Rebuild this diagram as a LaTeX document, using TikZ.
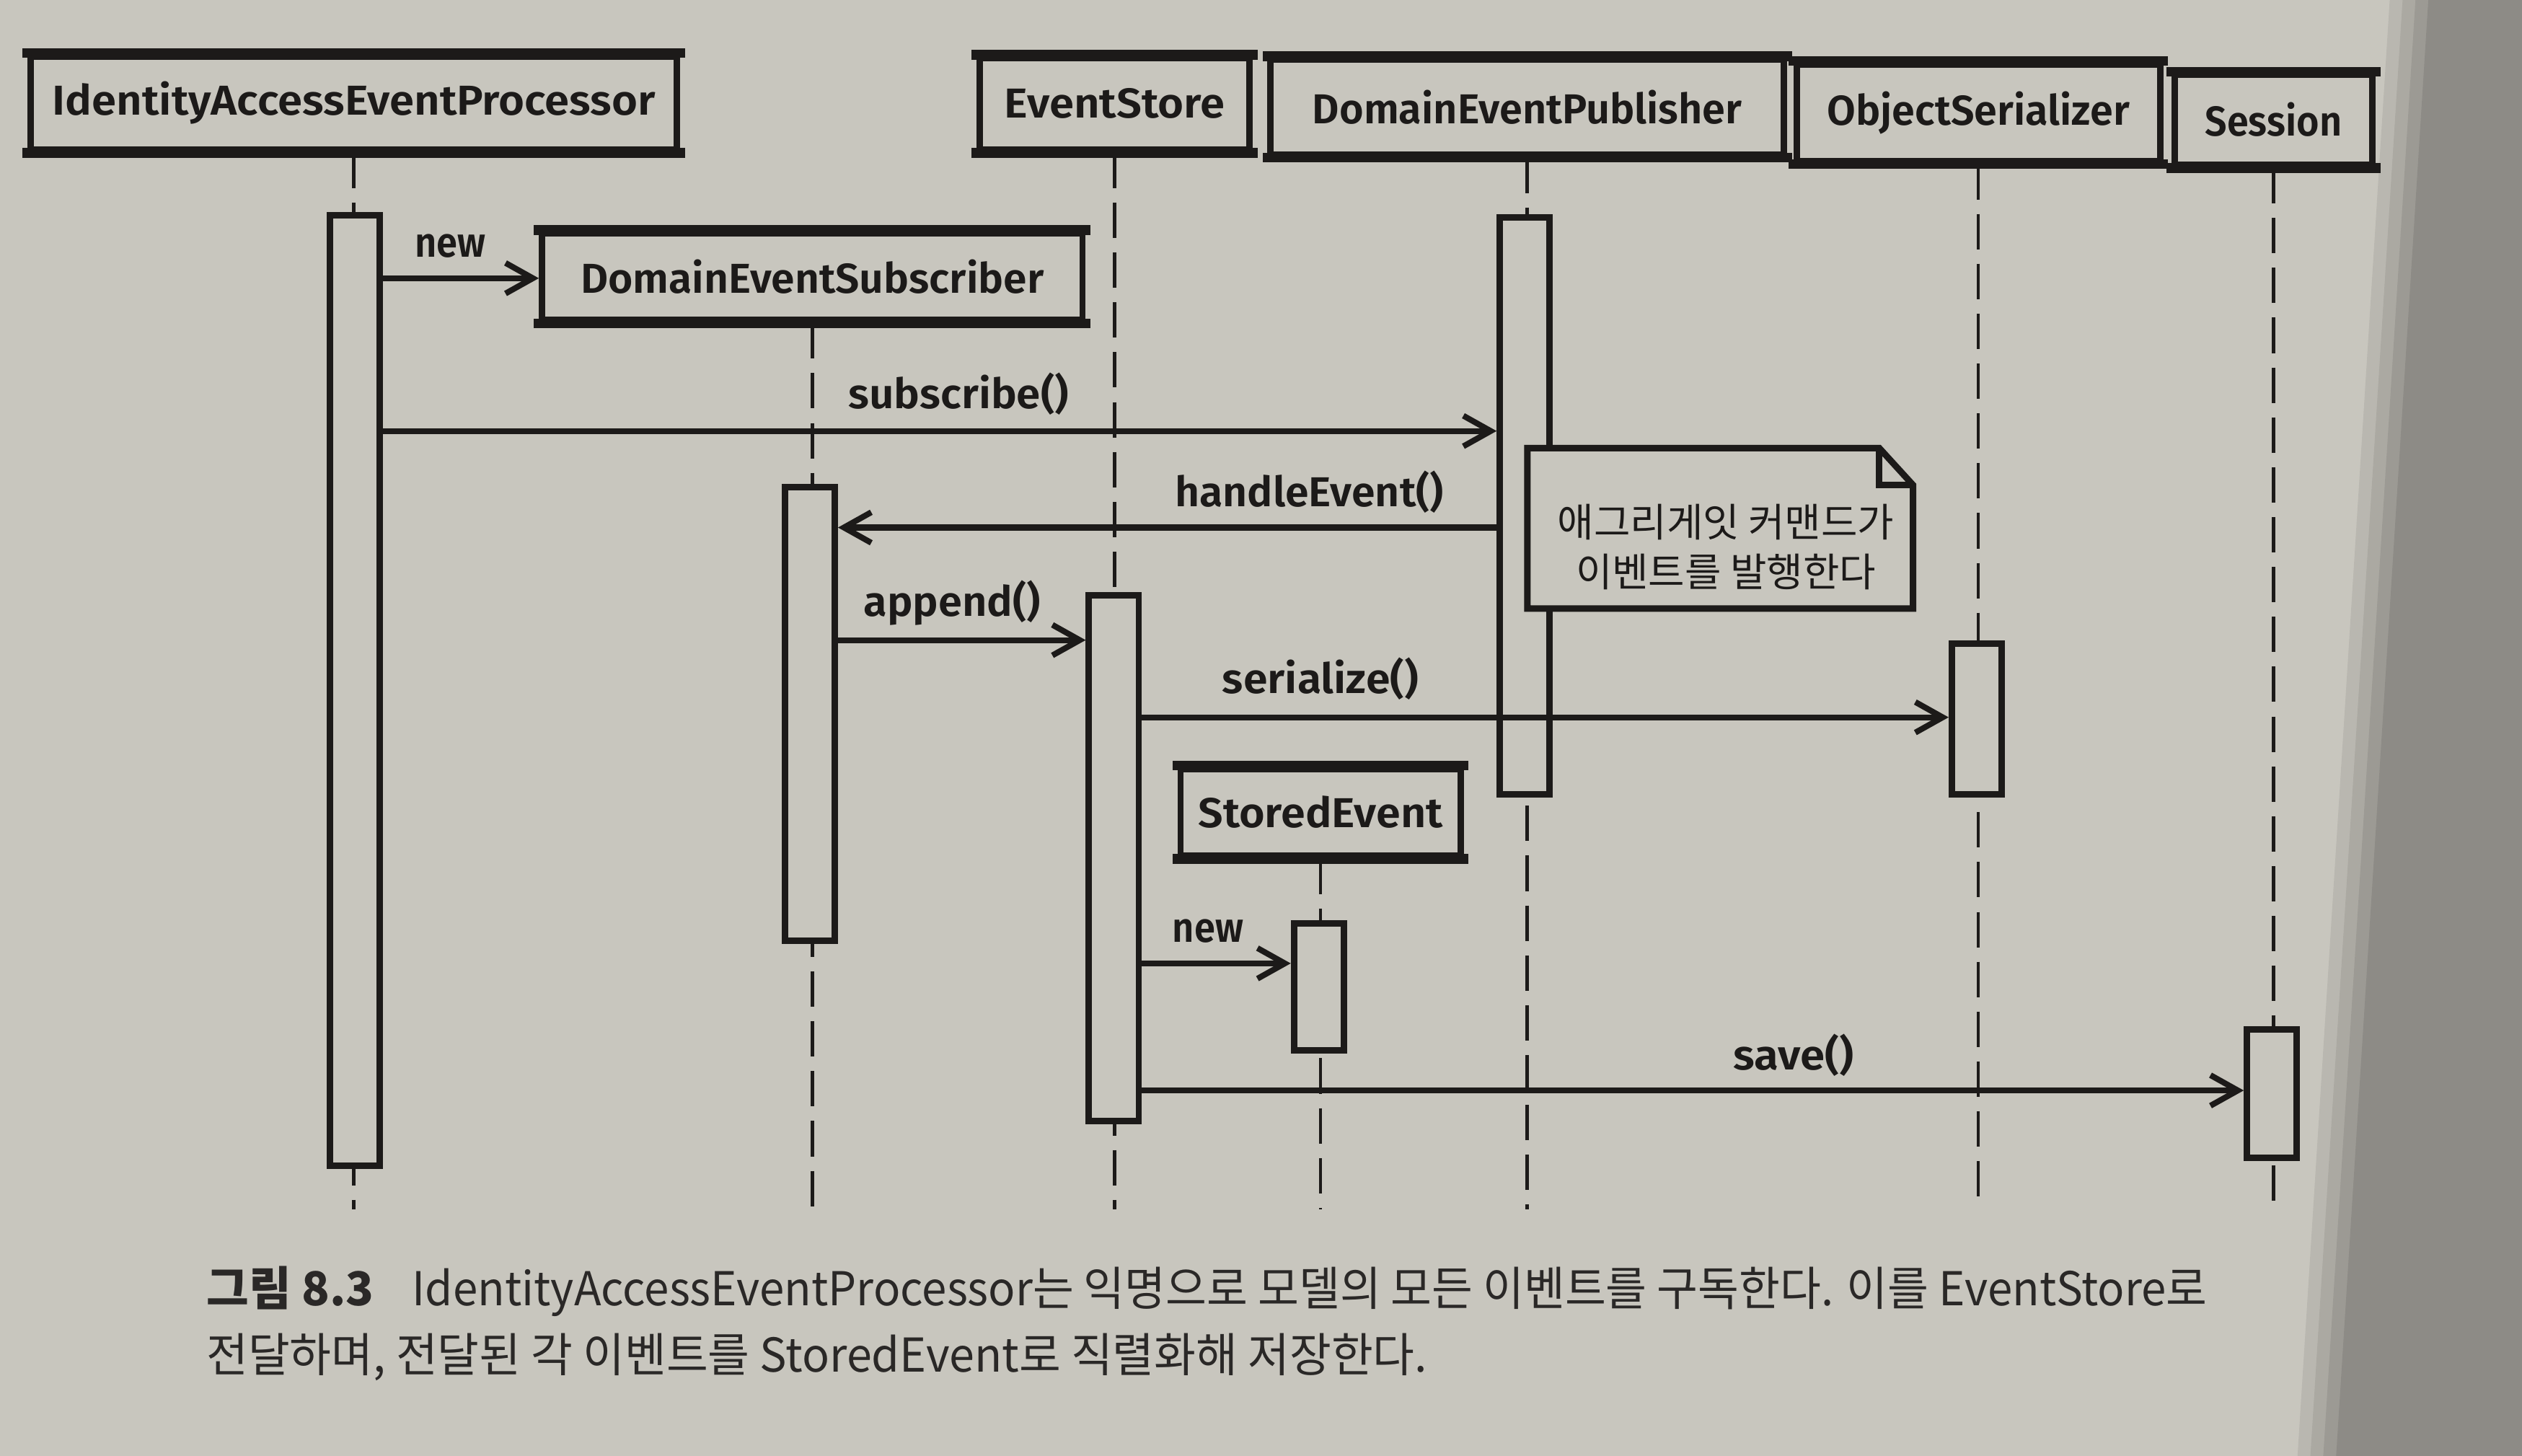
\documentclass[tikz,border=0pt]{standalone}
\usepackage{fontspec}
\usepackage{graphicx}
\usetikzlibrary{arrows.meta,calc}
\newfontfamily\lblfont{Fira Sans SemiBold}
\newfontfamily\krfont{Noto Sans CJK KR}
\definecolor{paper}{HTML}{C8C6BE}
\definecolor{ink}{HTML}{1C1A19}
\definecolor{capink}{HTML}{2A2827}
\definecolor{shadowc}{HTML}{8D8B86}
\newcommand\fitw[2]{\resizebox{\dimexpr #1pt/2\relax}{\height}{#2}}
\begin{document}
\begin{tikzpicture}[x=0.5pt,y=-0.5pt,
  obj/.style={draw=ink,line width=2pt,fill=paper,inner sep=0pt,text=ink,font=\lblfont\fontsize{13}{15}\selectfont},
  bar/.style={draw=ink,line width=2pt,fill=paper,inner sep=0pt,minimum width=15.5pt},
  life/.style={draw=ink,line width=1pt,dash pattern=on 11pt off 4.5pt},
  msg/.style={draw=ink,line width=1.8pt,-{Straight Barb[length=8.5pt,width=9.5pt]}},
  lbl/.style={text=ink,inner sep=0pt,font=\lblfont\fontsize{13}{15}\selectfont},
  edge/.style={draw=ink,line width=3pt,line cap=rect},
  captext/.style={anchor=base west,inner sep=0pt,text=capink,font=\krfont\fontsize{14.5}{17}\selectfont},
]
% background
\useasboundingbox (0,0) rectangle (1568,905.27);
\fill[paper] (-4,-4) rectangle (1572,912);
\fill[paper!75!shadowc] (1486,-4) -- (1572,-4) -- (1572,912) -- (1428,912) -- cycle;
\fill[paper!50!shadowc] (1494,-4) -- (1572,-4) -- (1572,912) -- (1436,912) -- cycle;
\fill[paper!25!shadowc] (1502,-4) -- (1572,-4) -- (1572,912) -- (1444,912) -- cycle;
\fill[shadowc] (1510,-4) -- (1572,-4) -- (1572,912) -- (1452,912) -- cycle;

% object boxes
\node[obj,minimum width=201pt,minimum height=29pt] (iaep) at (220,64) {\fitw{375}{IdentityAccessEventProcessor}};
\node[obj,minimum width=84pt,minimum height=28.5pt] (es) at (693,64.5) {\fitw{137}{EventStore}};
\node[obj,minimum width=159.5pt,minimum height=29.5pt] (dep) at (949.5,66.5) {\fitw{267}{DomainEventPublisher}};
\node[obj,minimum width=113pt,minimum height=30pt] (os) at (1230,70) {\fitw{188}{ObjectSerializer}};
\node[obj,minimum width=61.5pt,minimum height=28pt] (ses) at (1413.5,74.5) {\fitw{85}{Session}};

\coordinate (bot) at (0,752);
% lifelines
\foreach \n in {iaep,es,dep,os,ses}{
  \draw[life] (\n.south) -- (\n.south |- bot);
}
\node[obj,minimum width=168pt,minimum height=27pt] (des) at (505,172) {\fitw{288}{DomainEventSubscriber}};
\node[obj,minimum width=87pt,minimum height=27pt] (se) at (821,505) {\fitw{152}{StoredEvent}};
\draw[life] (des.south) -- (des.south |- bot);
\draw[life] (se.south) -- (se.south |- bot);

% thick top/bottom edges of boxes
\foreach \n in {iaep,es,dep,os,ses,des,se}{
  \draw[edge] (\n.north west) -- (\n.north east);
  \draw[edge] (\n.south west) -- (\n.south east);
}

% activation bars
\node[bar,minimum height=295.5pt] (b1) at (220.5,429.5) {};
\node[bar,minimum height=141pt] (b2) at (503.5,444) {};
\node[bar,minimum height=163.5pt] (b3) at (692.5,533.5) {};
\node[bar,minimum height=179.5pt] (b4) at (948,314.5) {};
\node[bar,minimum height=47pt] (b5) at (1229,447) {};
\node[bar,minimum height=39.5pt] (b6) at (820,613.5) {};
\node[bar,minimum height=40pt] (b7) at (1412.5,680) {};

% note
\node[inner sep=0pt,minimum width=119.5pt,minimum height=49.5pt] (note) at (1069.5,328.5) {};
\draw[ink,line width=2pt,fill=paper,line join=miter]
  (note.north west) -- ([xshift=-10.5pt]note.north east) -- ([yshift=-11.5pt]note.north east)
  -- (note.south east) -- (note.south west) -- cycle;
\draw[ink,line width=2pt] ([xshift=-10.5pt]note.north east) -- ([xshift=-10.5pt,yshift=-11.5pt]note.north east)
  -- ([yshift=-11.5pt]note.north east);
\node[inner sep=0pt,text=ink,align=center,font=\krfont\fontsize{12.3}{15.5}\selectfont] (notetxt) at (1073,340)
  {애그리게잇 커맨드가\\이벤트를 발행한다};

% messages
\coordinate (m1) at (0,173);
\coordinate (m2) at (0,268);
\coordinate (m3) at (0,328);
\coordinate (m4) at (0,398);
\coordinate (m5) at (0,446);
\coordinate (m6) at (0,599);
\coordinate (m7) at (0,678);
\draw[msg] (b1.east |- m1) -- (des.west |- m1);
\draw[msg] (b1.east |- m2) -- (b4.west |- m2);
\draw[msg] (b4.west |- m3) -- (b2.east |- m3);
\draw[msg] (b2.east |- m4) -- (b3.west |- m4);
\draw[msg] (b3.east |- m5) -- (b5.west |- m5);
\draw[msg] (b3.east |- m6) -- (b6.west |- m6);
\draw[msg] (b3.east |- m7) -- (b7.west |- m7);

\node[lbl] (l1) at (280,153) {\fitw{44}{new}};
\node[lbl] (l2) at (596,245) {\fitw{137}{subscribe()}};
\node[lbl] (l3) at (814,306) {\fitw{167}{handleEvent()}};
\node[lbl] (l4) at (592,375) {\fitw{110}{append()}};
\node[lbl] (l5) at (821,422) {\fitw{122}{serialize()}};
\node[lbl] (l6) at (751,579) {\fitw{44}{new}};
\node[lbl] (l7) at (1115,656) {\fitw{75}{save()}};

% caption
\node[captext,font=\krfont\bfseries\fontsize{14.5}{17}\selectfont] (capno) at (128,812) {\fitw{104}{그림 8.3}};
\node[captext] (cap1) at (256,812) {\fitw{1116}{IdentityAccessEventProcessor는 익명으로 모델의 모든 이벤트를 구독한다. 이를 EventStore로}};
\node[captext] (cap2) at (128,853) {\fitw{759}{전달하며, 전달된 각 이벤트를 StoredEvent로 직렬화해 저장한다.}};
\end{tikzpicture}
\end{document}
